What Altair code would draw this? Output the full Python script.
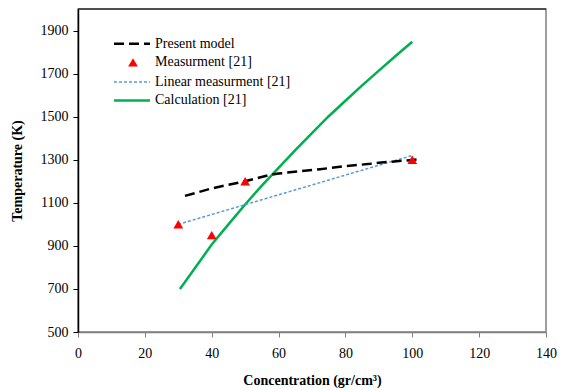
import altair as alt
import pandas as pd

# Series names
NAMES = ["Present model", "Measurment [21]", "Linear measurment [21]", "Calculation [21]"]

# Present model curve
model_x = [32, 40, 50, 57.4, 60, 72.4, 80, 87.4, 90, 100, 101.3]
model_y = [1132, 1167, 1200, 1230, 1236, 1256, 1270, 1281, 1286, 1299, 1301]

# Measured points
meas_x = [30, 40, 50, 100]
meas_y = [1000, 950, 1200, 1300]

# Linear fit of the measurements
lin_x = [30, 100]
lin_y = [1000, 1320]

# Calculated curve
calc_x = [30.5, 35, 40, 45, 50, 55, 60, 65, 70, 75, 80, 85, 90, 95, 100]
calc_y = [700, 797, 906, 1000, 1092, 1180, 1262, 1345, 1424, 1502, 1574, 1645, 1714, 1782, 1848]

Y_TICKS = [500, 700, 900, 1100, 1300, 1500, 1700, 1900]
X_TICKS = [0, 20, 40, 60, 80, 100, 120, 140]

FONT = "Times New Roman, Liberation Serif, serif"
W, H = 468, 323

model = pd.DataFrame({"x": model_x, "y": model_y})
meas = pd.DataFrame({"x": meas_x, "y": meas_y})
lin = pd.DataFrame({"x": lin_x, "y": lin_y})
calc = pd.DataFrame({"x": calc_x, "y": calc_y})
one = pd.DataFrame({"k": [0]})  # single row for legend glyphs

xs = alt.Scale(domain=[0, 140], nice=False)
ys = alt.Scale(domain=[500, 2000], nice=False)

common = dict(grid=False, format="d", tickSize=5, labelFlush=False,
              labelFont=FONT, labelFontSize=14, labelColor="#000000",
              titleFont=FONT, titleFontSize=14, titleFontWeight="bold", titleColor="#000000",
              domainWidth=1.5)
x_axis = alt.Axis(values=X_TICKS, title="Concentration (gr/cm³)",
                  domainColor="#808080", tickColor="#808080",
                  labelPadding=9, titlePadding=13, **common)
y_axis = alt.Axis(values=Y_TICKS, title="Temperature (K)",
                  domainColor="#000000", tickColor="#000000",
                  labelPadding=5, titlePadding=16, **common)

X = alt.X("x:Q", scale=xs, axis=x_axis)
Y = alt.Y("y:Q", scale=ys, axis=y_axis)

calc_line = alt.Chart(calc).mark_line(color="#00B050", strokeWidth=2.5).encode(x=X, y=Y)
lin_line = alt.Chart(lin).mark_line(color="#5B9BD5", strokeWidth=1.5, strokeDash=[3, 2]).encode(x=X, y=Y)
model_line = alt.Chart(model).mark_line(color="#000000", strokeWidth=2.5, strokeDash=[10, 5]).encode(x=X, y=Y)
meas_pts = alt.Chart(meas).mark_point(shape="triangle-up", filled=True, color="#FF0000",
                                      opacity=1, size=95).encode(x=X, y=Y)

# Top border of the frame
top_border = alt.Chart(one).mark_rule(color="#000000", strokeWidth=1.2).encode(
    x=alt.value(0), x2=alt.value(W), y=alt.value(0))

# Legend entries
LEG_X0, LEG_X1, LEG_TX = 36, 72, 77
LEG_Y = [34.7, 53.4, 73, 91.4]
leg = []
leg.append(alt.Chart(one).mark_rule(color="#000000", strokeWidth=2.5, strokeDash=[10, 5]).encode(
    x=alt.value(LEG_X0), x2=alt.value(LEG_X1), y=alt.value(LEG_Y[0])))
leg.append(alt.Chart(one).mark_point(shape="triangle-up", filled=True, color="#FF0000",
                                     opacity=1, size=95).encode(
    x=alt.value(55), y=alt.value(LEG_Y[1])))
leg.append(alt.Chart(one).mark_rule(color="#5B9BD5", strokeWidth=1.5, strokeDash=[3, 2]).encode(
    x=alt.value(LEG_X0), x2=alt.value(LEG_X1), y=alt.value(LEG_Y[2])))
leg.append(alt.Chart(one).mark_rule(color="#00B050", strokeWidth=2.5).encode(
    x=alt.value(LEG_X0), x2=alt.value(LEG_X1), y=alt.value(LEG_Y[3])))
for name, yy in zip(NAMES, LEG_Y):
    leg.append(alt.Chart(one).mark_text(font=FONT, fontSize=14, align="left",
                                        baseline="middle", color="#000000").encode(
        x=alt.value(LEG_TX), y=alt.value(yy), text=alt.value(name)))

chart = alt.layer(calc_line, lin_line, model_line, meas_pts, top_border, *leg).properties(
    width=W, height=H,
    background="white",
    autosize=alt.AutoSizeParams(type="none"),
    padding={"left": 78, "top": 9, "right": 17, "bottom": 58},
).configure_view(stroke="#808080", strokeWidth=1.5)

chart.save("out.html", embed_options={"renderer": "svg", "actions": False})
